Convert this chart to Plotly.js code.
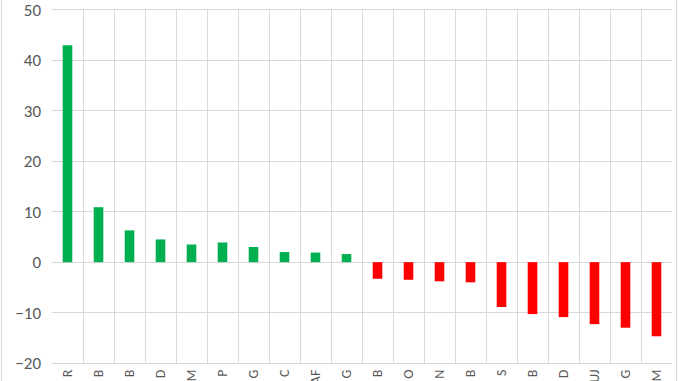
<!DOCTYPE html>
<html>
<head>
<meta charset="utf-8">
<script src="https://cdn.plot.ly/plotly-3.0.1.min.js"></script>
<style>
  html, body { margin: 0; padding: 0; background: #fff; }
  #wrap { position: relative; width: 678px; height: 381px; overflow: hidden; }
  #chart { width: 678px; height: 381px; }
  #frame { position: absolute; left: 1px; top: -2px; width: 674px; height: 390px;
           border: 1px solid #D9D9D9; pointer-events: none; }
</style>
</head>
<body>
<div id="wrap"><div id="chart"></div><div id="frame"></div></div>
<script>
const labels = ["R","B","B","D","M","P","G","C","AF","G","B","O","N","B","S","B","D","UJ","G","M"];
const values = [43, 10.9, 6.3, 4.5, 3.5, 3.9, 3.0, 2.0, 1.9, 1.6, -3.3, -3.5, -3.8, -4.0, -8.9, -10.3, -10.9, -12.3, -13.0, -14.7];
const yTicks = [-20, -10, 0, 10, 20, 30, 40, 50];

const ids = labels.map((l, i) => "c" + i);
const colors = values.map(v => v >= 0 ? "#00B050" : "#FF0000");

const trace = {
  type: "bar",
  x: ids,
  y: values,
  marker: { color: colors },
  width: 0.31,
  hoverinfo: "none"
};

const layout = {
  width: 678, height: 381,
  margin: { l: 52, r: 6, t: 10, b: 18 },
  paper_bgcolor: "#ffffff",
  plot_bgcolor: "#ffffff",
  showlegend: false,
  font: { family: "Carlito, Lato, 'Open Sans', sans-serif", color: "#595959", size: 13 },
  xaxis: {
    type: "category",
    tickmode: "array",
    tickvals: ids,
    ticktext: labels,
    tickangle: -90,
    tickson: "boundaries",
    showgrid: true,
    gridcolor: "#D9D9D9",
    gridwidth: 1,
    ticks: "",
    showline: true,
    linecolor: "#D9D9D9",
    mirror: true,
    automargin: false,
    ticklabeloverflow: "allow",
    tickfont: { size: 14, color: "#595959" }
  },
  yaxis: {
    range: [-20, 50],
    tickmode: "array",
    tickvals: yTicks,
    showgrid: true,
    gridcolor: "#D9D9D9",
    zeroline: true,
    zerolinecolor: "#D9D9D9",
    zerolinewidth: 1,
    showline: false,
    ticks: "",
    ticklabelstandoff: 10,
    ticklabeloverflow: "allow",
    automargin: false,
    tickfont: { size: 17, color: "#595959" }
  }
};

Plotly.newPlot("chart", [trace], layout, { displayModeBar: false, staticPlot: true });
</script>
</body>
</html>
